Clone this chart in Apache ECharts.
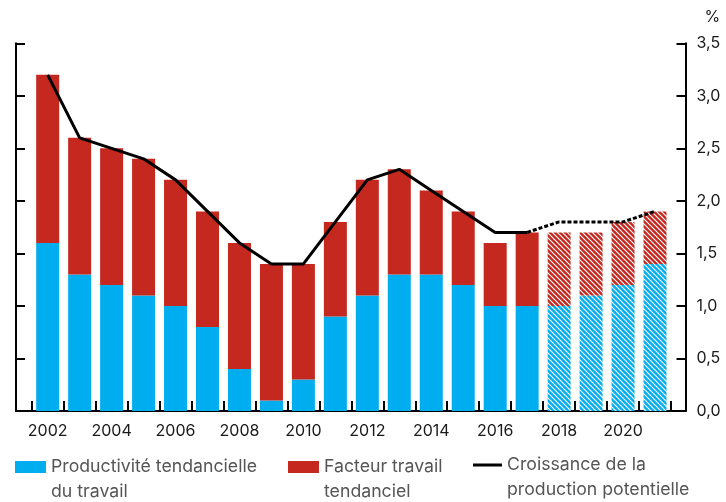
<!DOCTYPE html>
<html><head><meta charset="utf-8">
<script src="https://cdn.jsdelivr.net/npm/echarts@6/dist/echarts.min.js"></script>
<style>html,body{margin:0;padding:0;background:#fff}#c{width:726px;height:502px}</style>
</head><body><div id="c"></div>
<script>
const years = ['2002','2003','2004','2005','2006','2007','2008','2009','2010','2011','2012','2013','2014','2015','2016','2017','2018','2019','2020','2021'];
const productivite = [1.6,1.3,1.2,1.1,1.0,0.8,0.4,0.1,0.3,0.9,1.1,1.3,1.3,1.2,1.0,1.0,1.0,1.1,1.2,1.4];
const travail = [1.6,1.3,1.3,1.3,1.2,1.1,1.2,1.3,1.1,0.9,1.1,1.0,0.8,0.7,0.6,0.7,0.7,0.6,0.6,0.5];
const potentielle = [3.2,2.6,2.5,2.4,2.2,1.9,1.6,1.4,1.4,1.8,2.2,2.3,2.1,1.9,1.7,1.7,1.8,1.8,1.8,1.9];
const projectionStart = '2018';
const names = ['Productivité tendancielle', 'Facteur travail', 'Croissance de la'];
const legendLabels = ['Productivité tendancielle\ndu travail', 'Facteur travail\ntendanciel', 'Croissance de la\nproduction potentielle'];

const BLUE = '#00AEEF', RED = '#C4281F';
const FONT = 'Inter';
const LEG_FS = 17.7;
function hatch(bg){
  const s = 5, c = document.createElement('canvas');
  c.width = c.height = s;
  const g = c.getContext('2d');
  g.fillStyle = bg; g.fillRect(0,0,s,s);
  g.strokeStyle = '#fff'; g.lineWidth = 1.2;
  g.beginPath();
  for (let k=-1;k<=1;k++){ g.moveTo(k*s-1,-1); g.lineTo(k*s+s+1,s+1); }
  g.stroke();
  return {image:c, repeat:'repeat'};
}
const pi = years.indexOf(projectionStart);
function barData(vals, pat){ return vals.map((v,i)=> i>=pi ? {value:v, itemStyle:{color:pat}} : v); }
const solid = potentielle.map((v,i)=> i<pi ? v : null);
const dashed = potentielle.map((v,i)=> i>=pi-1 ? v : null);

const axisLine = {color:'#000', width:2};
const chart = echarts.init(document.getElementById('c'), null, {renderer:'canvas'});
function legend(i, left, iconTop, w, h, color){
  // three text lines of 25px (first one empty) centred on the icon centre
  const centre = iconTop + h/2;
  return {
    data:[{name:names[i], icon:'rect', itemStyle:{color:color}}],
    left:left, top:centre - 37.5, padding:0, orient:'horizontal',
    itemWidth:w, itemHeight:h, itemGap:0,
    formatter: () => ' \n' + legendLabels[i],
    selectedMode:false,
    textStyle:{fontFamily:FONT, fontSize:LEG_FS, color:'#555', lineHeight:25}
  };
}
chart.setOption({
  animation:false,
  textStyle:{fontFamily:FONT},
  grid:[
    {left:31.7, right:55, top:43.3, bottom:91},
    {left:16, right:40.5, top:43.3, bottom:91}
  ],
  legend:[legend(0,15,461,31,12,BLUE), legend(1,288,461,31,12,RED), legend(2,473,463.5,29,3,'#000')],
  xAxis:[
    {type:'category', gridIndex:0, data:years, boundaryGap:true,
     axisLine:{show:false},
     axisTick:{show:true, inside:true, length:10, interval:0, lineStyle:axisLine},
     axisLabel:{interval:1, margin:12, fontSize:16, color:'#1a1a1a', fontFamily:FONT}},
    {type:'value', gridIndex:1, min:0, max:1,
     axisLine:{show:true, onZero:false, lineStyle:axisLine},
     axisTick:{show:false}, axisLabel:{show:false}, splitLine:{show:false}}
  ],
  yAxis:[
    {type:'value', gridIndex:0, min:0, max:3.5, show:false},
    {type:'value', gridIndex:1, min:0, max:3.5, interval:0.5, position:'left',
     axisLine:{show:true, onZero:false, lineStyle:axisLine},
     axisTick:{show:true, inside:true, length:9, lineStyle:axisLine},
     axisLabel:{show:false}, splitLine:{show:false}},
    {type:'value', gridIndex:1, min:0, max:3.5, interval:0.5, position:'right',
     name:'%', nameLocation:'end', nameGap:18,
     nameTextStyle:{fontFamily:FONT, fontSize:16, color:'#1a1a1a', align:'left', padding:[0,0,0,19]},
     axisLine:{show:true, onZero:false, lineStyle:axisLine},
     axisTick:{show:true, inside:true, length:9, lineStyle:axisLine},
     axisLabel:{show:true, margin:11, fontSize:16, color:'#1a1a1a', fontFamily:FONT,
       formatter:v=>v.toFixed(1).replace('.',',')},
     splitLine:{show:false}}
  ],
  series:[
    {name:names[0], type:'bar', stack:'a', xAxisIndex:0, yAxisIndex:0, barWidth:23,
     itemStyle:{color:BLUE}, data:barData(productivite, hatch(BLUE))},
    {name:names[1], type:'bar', stack:'a', xAxisIndex:0, yAxisIndex:0, barWidth:23,
     itemStyle:{color:RED}, data:barData(travail, hatch(RED))},
    {name:names[2], type:'line', xAxisIndex:0, yAxisIndex:0, symbol:'none', z:5,
     lineStyle:{color:'#000', width:3}, itemStyle:{color:'#000'}, data:solid},
    {name:'proj', type:'line', xAxisIndex:0, yAxisIndex:0, symbol:'none', z:5,
     lineStyle:{color:'#000', width:3, type:[4,2]}, itemStyle:{color:'#000'}, data:dashed}
  ]
});
</script></body></html>
